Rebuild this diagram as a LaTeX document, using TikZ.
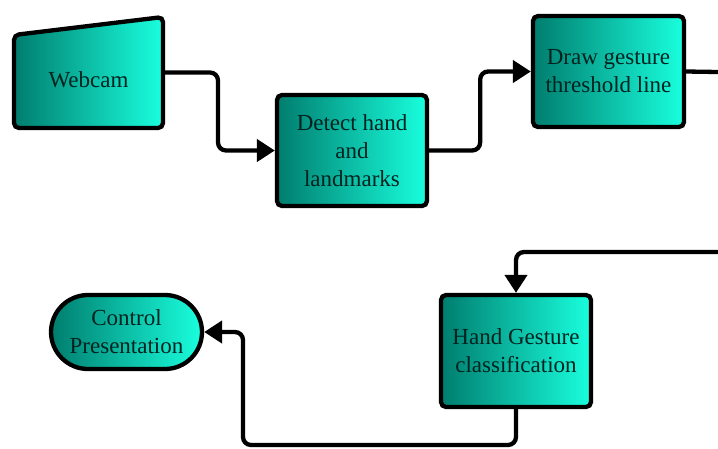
\documentclass[tikz,border=0pt]{standalone}
\usepackage{fontspec}
\setmainfont{Liberation Serif}
\usetikzlibrary{arrows.meta}
\definecolor{tdark}{RGB}{0,125,110}
\definecolor{tbright}{RGB}{25,255,222}
\definecolor{txt}{RGB}{0,35,32}
\tikzset{
  x=1pt, y=1pt,
  box/.style={draw=black, line width=4.3pt, rounded corners=5pt, left color=tdark, right color=tbright,
    align=center, text=txt, font=\fontsize{23}{28}\selectfont, inner sep=0pt},
  conn/.style={line width=4.3pt, rounded corners=8pt, -{Triangle[length=18pt,width=22pt]}},
  plain/.style={line width=4.3pt, rounded corners=8pt}
}
\begin{document}
\begin{tikzpicture}
\useasboundingbox (0,0) rectangle (718,-448);
% Webcam (manual input shape)
\path[draw=black, line width=4.3pt, rounded corners=5pt, left color=tdark, right color=tbright]
  (14,-35) -- (163,-17) -- (163,-128) -- (14,-128) -- cycle;
\node[minimum width=149pt, minimum height=111pt, outer sep=0pt, inner sep=0pt, text=txt,
  font=\fontsize{23}{28}\selectfont] (webcam) at (88.5,-72.5) {\raisebox{-14.5pt}[0pt][0pt]{Webcam}};
\node[box, minimum width=150pt, minimum height=111pt] (detect) at (352,-150.5) {Detect hand\\and\\landmarks};
\node[box, minimum width=151pt, minimum height=111pt] (drawg) at (608.5,-71.5) {Draw gesture\\threshold line};
\node[box, minimum width=150pt, minimum height=112pt] (hg) at (516,-351) {Hand Gesture\\classification};
\node[box, minimum width=151pt, minimum height=74pt, rounded corners=37pt] (cp) at (126.5,-332) {Control\\Presentation};
\coordinate (out1) at (718,-72);
\coordinate (in1) at (718,-252);
\coordinate (c1) at (243,-445);
\draw[conn] (webcam.east) -- ++(55,0) |- (detect.west);
\draw[conn] (detect.east) -- ++(51,0) |- (drawg.west);
\draw[plain] (drawg.east) -- (out1);
\draw[conn] (in1) -| (hg.north);
\draw[conn] (hg.south) |- (c1) |- (cp.east);
\end{tikzpicture}
\end{document}
